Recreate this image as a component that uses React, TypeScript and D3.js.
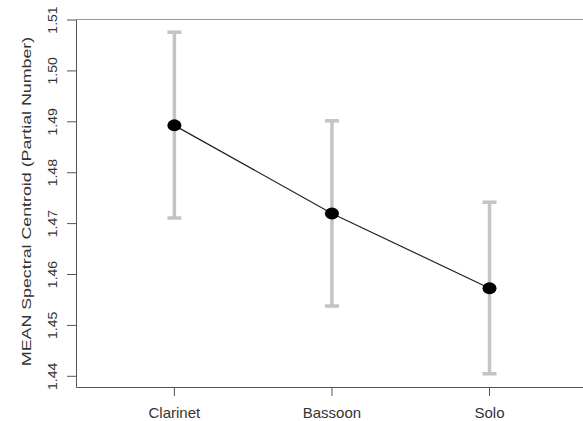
import React from "react";
import * as d3 from "d3";

const categories = ["Clarinet", "Bassoon", "Solo"];
const means = [1.4893, 1.472, 1.4573];
const upper = [1.5076, 1.4902, 1.4742];
const lower = [1.4711, 1.4538, 1.4405];
const yTicks = [1.44, 1.45, 1.46, 1.47, 1.48, 1.49, 1.5, 1.51];
const yTitle = "MEAN Spectral Centroid (Partial Number)";

const W = 583;
const H = 421;

export default function App() {
  const x = d3.scaleLinear().domain([0.38, 3.62]).range([76.7, 587.2]);
  const y = d3.scaleLinear().domain([1.43784, 1.51014]).range([387.3, 19.3]);
  const pts = categories.map((c, i) => [x(i + 1), y(means[i])] as [number, number]);
  const line = d3.line()(pts) || "";
  const font = "'Liberation Sans', Arial, sans-serif";
  const left = 76.5;
  const bottom = 387.5;
  const top = 19.5;
  const capHalf = 7;
  return (
    <svg
      width={W}
      height={H}
      style={{ position: "absolute", left: 0, top: 0, background: "#fff" }}
      fontFamily={font}
    >
      <rect x={0} y={0} width={W} height={H} fill="#fff" />
      {/* box */}
      <line x1={left} y1={top} x2={W} y2={top} stroke="#999" strokeWidth={1} />
      <line x1={left} y1={top} x2={left} y2={bottom} stroke="#555" strokeWidth={1} />
      <line x1={left} y1={bottom} x2={W} y2={bottom} stroke="#555" strokeWidth={1} />
      {/* y ticks */}
      {yTicks.map((t) => (
        <g key={t}>
          <line x1={67} x2={left} y1={y(t)} y2={y(t)} stroke="#555" strokeWidth={1} />
          <text
            transform={`translate(56.5,${y(t)}) rotate(-90) scale(1.08,1)`}
            textAnchor="middle"
            fontSize={13}
            fill="#333"
          >
            {t.toFixed(2)}
          </text>
        </g>
      ))}
      <text
        transform={`translate(31,${(top + bottom) / 2 - 2}) rotate(-90) scale(1.37,1)`}
        textAnchor="middle"
        fontSize={13}
        fill="#333"
      >
        {yTitle}
      </text>
      {/* x ticks */}
      {categories.map((c, i) => (
        <g key={c}>
          <line x1={x(i + 1)} x2={x(i + 1)} y1={bottom} y2={396} stroke="#555" strokeWidth={1} />
          <text x={x(i + 1)} y={418} textAnchor="middle" fontSize={15} fill="#333">
            {c}
          </text>
        </g>
      ))}
      {/* error bars */}
      {categories.map((c, i) => (
        <g key={"e" + c} stroke="#c4c4c4" strokeWidth={3.5}>
          <line x1={x(i + 1)} x2={x(i + 1)} y1={y(upper[i])} y2={y(lower[i])} />
          <line x1={x(i + 1) - capHalf} x2={x(i + 1) + capHalf} y1={y(upper[i])} y2={y(upper[i])} />
          <line x1={x(i + 1) - capHalf} x2={x(i + 1) + capHalf} y1={y(lower[i])} y2={y(lower[i])} />
        </g>
      ))}
      <path d={line} fill="none" stroke="#222" strokeWidth={1.2} />
      {pts.map((p, i) => (
        <ellipse key={i} cx={p[0]} cy={p[1]} rx={7} ry={6} fill="#000" />
      ))}
    </svg>
  );
}
